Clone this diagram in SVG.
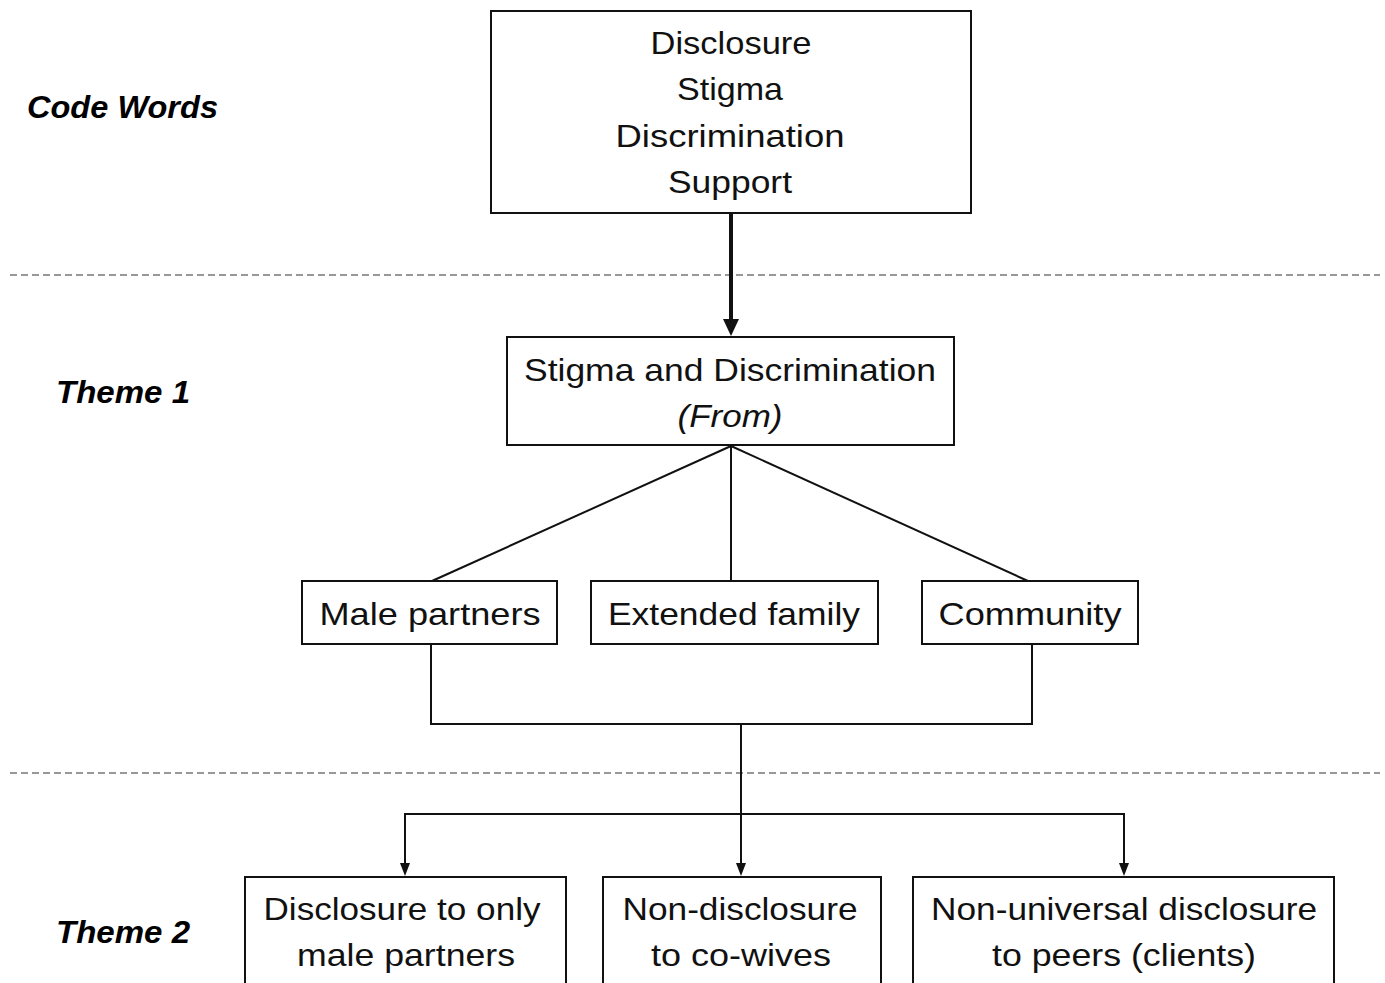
<svg xmlns="http://www.w3.org/2000/svg" width="1385" height="983" viewBox="0 0 1385 983">
<style>
.box{fill:#fff;stroke:#111;stroke-width:2}
.t{font-family:"Liberation Sans",Arial,sans-serif;font-size:32px;fill:#111;text-anchor:middle}
.it{font-style:italic}
.lbl{font-family:"Liberation Sans",Arial,sans-serif;font-size:32px;font-weight:bold;font-style:italic;fill:#000}
.dash{stroke:#777;stroke-width:1.5;stroke-dasharray:7,4;fill:none}
.ln{stroke:#111;stroke-width:2;fill:none}
</style>
<defs>
<marker id="ah" viewBox="0 0 10 10" refX="10" refY="5" markerWidth="5" markerHeight="5" markerUnits="userSpaceOnUse" orient="auto"><path d="M0,0 L10,5 L0,10 z" fill="#111"/></marker>
<marker id="sh" viewBox="0 0 10 10" refX="10" refY="5" markerWidth="6" markerHeight="6" orient="auto"><path d="M0,0 L10,5 L0,10 z" fill="#111"/></marker>
</defs>
<rect width="1385" height="983" fill="#fff"/>
<g id="separators">
<line class="dash" x1="10" y1="275" x2="1380" y2="275"/>
<line class="dash" x1="10" y1="773" x2="1380" y2="773"/>
</g>
<g id="labels">
<text class="lbl" x="27" y="118" textLength="191" lengthAdjust="spacingAndGlyphs">Code Words</text>
<text class="lbl" x="56" y="403" textLength="134" lengthAdjust="spacingAndGlyphs">Theme 1</text>
<text class="lbl" x="56" y="943" textLength="134" lengthAdjust="spacingAndGlyphs">Theme 2</text>
</g>
<g id="connectors">
<line x1="731" y1="214" x2="731" y2="320" stroke="#111" stroke-width="4"/>
<path d="M723,319 L739,319 L731,336 z" fill="#111"/>
<line class="ln" x1="731" y1="446" x2="432" y2="581"/>
<line class="ln" x1="731" y1="446" x2="731" y2="581"/>
<line class="ln" x1="731" y1="446" x2="1028" y2="581"/>
<path class="ln" d="M431,644 L431,724 L1032,724 L1032,644"/>
<line class="ln" x1="741" y1="724" x2="741" y2="864"/>
<path d="M736,863 L746,863 L741,876 z" fill="#111"/>
<path class="ln" d="M405,864 L405,814 L1124,814 L1124,864"/>
<path d="M400,863 L410,863 L405,876 z" fill="#111"/>
<path d="M1119,863 L1129,863 L1124,876 z" fill="#111"/>
</g>
<g id="code-words">
<rect class="box" x="491" y="11" width="480" height="202"/>
<text class="t" x="731" y="54" textLength="161" lengthAdjust="spacingAndGlyphs">Disclosure</text>
<text class="t" x="730" y="100" textLength="106" lengthAdjust="spacingAndGlyphs">Stigma</text>
<text class="t" x="730" y="147" textLength="229" lengthAdjust="spacingAndGlyphs">Discrimination</text>
<text class="t" x="730" y="193" textLength="124" lengthAdjust="spacingAndGlyphs">Support</text>
</g>
<g id="theme1">
<rect class="box" x="507" y="337" width="447" height="108"/>
<text class="t" x="730" y="381" textLength="412" lengthAdjust="spacingAndGlyphs">Stigma and Discrimination</text>
<text class="t it" x="730" y="427" textLength="105" lengthAdjust="spacingAndGlyphs">(From)</text>
</g>
<g id="male-partners">
<rect class="box" x="302" y="581" width="255" height="63"/>
<text class="t" x="430" y="625" textLength="221" lengthAdjust="spacingAndGlyphs">Male partners</text>
</g>
<g id="extended-family">
<rect class="box" x="591" y="581" width="287" height="63"/>
<text class="t" x="734" y="625" textLength="252" lengthAdjust="spacingAndGlyphs">Extended family</text>
</g>
<g id="community">
<rect class="box" x="922" y="581" width="216" height="63"/>
<text class="t" x="1030" y="625" textLength="183" lengthAdjust="spacingAndGlyphs">Community</text>
</g>
<g id="disclosure-male">
<rect class="box" x="245" y="877" width="321" height="130"/>
<text class="t" x="402" y="920" textLength="277" lengthAdjust="spacingAndGlyphs">Disclosure to only</text>
<text class="t" x="406" y="966" textLength="218" lengthAdjust="spacingAndGlyphs">male partners</text>
</g>
<g id="non-disclosure">
<rect class="box" x="603" y="877" width="278" height="130"/>
<text class="t" x="740" y="920" textLength="235" lengthAdjust="spacingAndGlyphs">Non-disclosure</text>
<text class="t" x="741" y="966" textLength="180" lengthAdjust="spacingAndGlyphs">to co-wives</text>
</g>
<g id="non-universal">
<rect class="box" x="913" y="877" width="421" height="130"/>
<text class="t" x="1124" y="920" textLength="386" lengthAdjust="spacingAndGlyphs">Non-universal disclosure</text>
<text class="t" x="1124" y="966" textLength="264" lengthAdjust="spacingAndGlyphs">to peers (clients)</text>
</g>
</svg>
